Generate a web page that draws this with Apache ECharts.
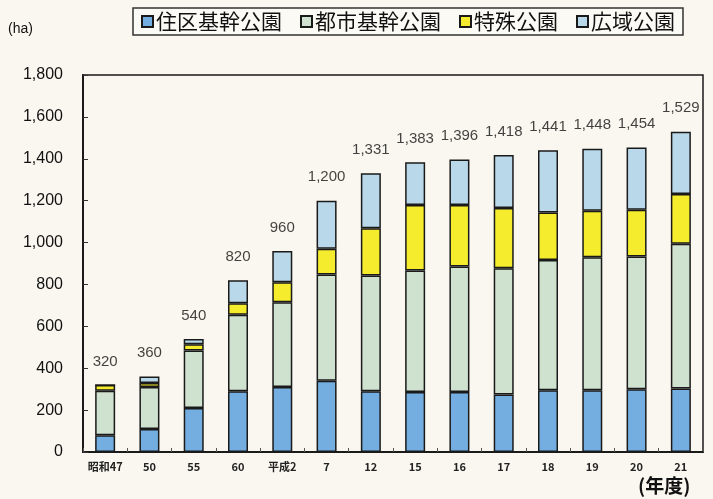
<!DOCTYPE html>
<html>
<head>
<meta charset="utf-8">
<script src="https://cdn.jsdelivr.net/npm/echarts@6/dist/echarts.min.js"></script>
<style>
  html, body { margin: 0; padding: 0; background: #f9f7ef; }
  #chart { width: 713px; height: 499px; }
</style>
</head>
<body>
<div id="chart"></div>
<script>
// 年度
const years = ['昭和47', '50', '55', '60', '平成2', '7', '12', '15', '16', '17', '18', '19', '20', '21'];
// 各公園の面積 (ha)
const juku = [80, 110, 210, 290, 310, 340, 290, 287, 287, 275, 295, 295, 300, 303];
const toshi = [212, 200, 275, 365, 405, 508, 553, 580, 599, 602, 622, 635, 633, 691];
const tokushu = [28, 20, 30, 55, 95, 122, 225, 312, 293, 288, 227, 222, 224, 238];
const koiki = [0, 30, 25, 110, 150, 230, 263, 204, 217, 253, 297, 296, 297, 297];
const totals = [320, 360, 540, 820, 960, 1200, 1331, 1383, 1396, 1418, 1441, 1448, 1454, 1529];
const yTicks = [0, 200, 400, 600, 800, 1000, 1200, 1400, 1600, 1800];

const chart = echarts.init(document.getElementById('chart'));

const numFont = '"Liberation Sans", Arial, sans-serif';
const jpFont = '"Noto Sans CJK JP", sans-serif';

function barSeries(name, data, color) {
  return {
    name: name,
    type: 'bar',
    stack: 'total',
    barWidth: 20,
    data: data,
    itemStyle: { color: color, borderColor: '#1a1a1a', borderWidth: 1.5 }
  };
}

const option = {
  backgroundColor: '#f9f7ef',
  animation: false,
  legend: {
    left: 133,
    top: 8,
    padding: [3, 8, 3, 8],
    borderColor: '#333',
    borderWidth: 1.5,
    backgroundColor: '#fbfaf4',
    itemWidth: 11,
    itemHeight: 11,
    itemGap: 18,
    icon: 'rect',
    textStyle: { fontFamily: jpFont, fontSize: 21, color: '#111', padding: [0, 0, 0, -2] },
    data: ['住区基幹公園', '都市基幹公園', '特殊公園', '広域公園']
  },
  grid: {
    left: 83, right: 10, top: 75, bottom: 47,
    show: true,
    borderColor: '#1a1a1a',
    borderWidth: 1.5,
    containLabel: false
  },
  xAxis: {
    type: 'category',
    data: years,
    axisLine: { lineStyle: { color: '#1a1a1a', width: 2 } },
    axisTick: { show: true, inside: true, length: 4, lineStyle: { color: '#555' } },
    axisLabel: { interval: 0, fontFamily: jpFont, fontSize: 11, fontWeight: 'bold', color: '#222', margin: 9 }
  },
  yAxis: {
    type: 'value',
    min: 0,
    max: yTicks[yTicks.length - 1],
    interval: 200,
    splitLine: { show: false },
    axisLine: { show: true, lineStyle: { color: '#1a1a1a', width: 2 } },
    axisTick: { show: true, inside: true, length: 5, lineStyle: { color: '#333' } },
    axisLabel: {
      fontFamily: numFont, fontSize: 16, color: '#111', margin: 20,
      formatter: v => v.toLocaleString('en-US')
    }
  },
  graphic: [
    { type: 'text', left: 8, top: 22, style: { text: '(ha)', font: '14px ' + numFont, fill: '#111' } },
    { type: 'text', left: 638, top: 476, style: { text: '(年度)', font: 'bold 19px ' + jpFont, fill: '#111' } }
  ],
  series: [
    barSeries('住区基幹公園', juku, '#74aee0'),
    barSeries('都市基幹公園', toshi, '#cfe1cf'),
    barSeries('特殊公園', tokushu, '#f4ec2c'),
    barSeries('広域公園', koiki, '#b9d9eb'),
    {
      type: 'scatter',
      data: totals,
      symbolSize: 0,
      silent: true,
      label: {
        show: true,
        position: 'top',
        distance: 16,
        fontFamily: numFont,
        fontSize: 15,
        color: '#111',
        formatter: p => p.value.toLocaleString('en-US')
      }
    }
  ]
};

chart.setOption(option);
</script>
</body>
</html>
